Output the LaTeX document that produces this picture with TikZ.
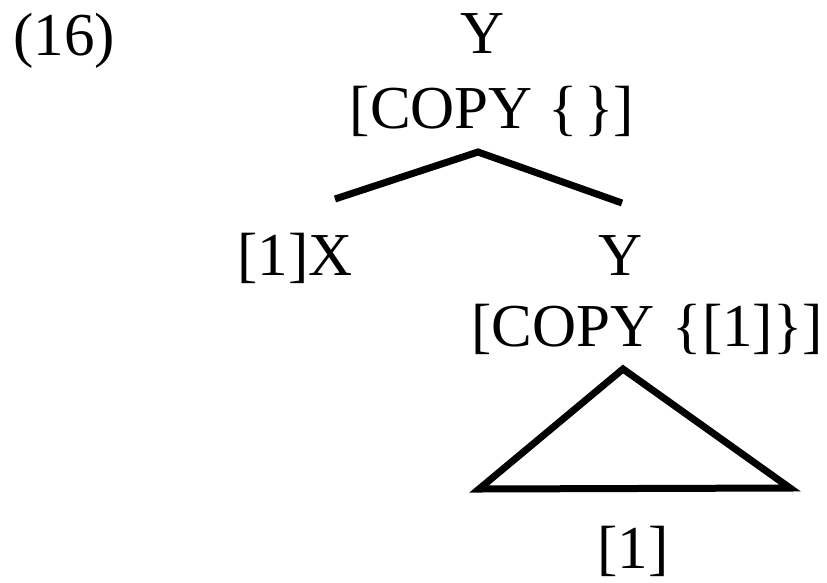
\documentclass[tikz,border=0pt]{standalone}
\usepackage{fontspec}
\setmainfont{Liberation Serif}
\begin{document}
\begin{tikzpicture}[x=1pt,y=-1pt,
  lbl/.style={inner sep=0pt,anchor=base,font=\fontsize{61}{61}\selectfont},
  edge/.style={line width=7pt,line cap=butt,line join=miter}]
\useasboundingbox (0,0) rectangle (827,582);
\node[lbl,anchor=base west] (ex) at (13,55) {(16)};
\node[lbl] (y1) at (483,53) {Y};
\node[lbl] (c1) at (492,128) {[COPY \{\kern0.12em\}]};
\coordinate (top) at (478,152);
\coordinate (l) at (335,199);
\coordinate (r) at (622,203);
\draw[edge] (l) -- (top) -- (r);
\node[lbl,anchor=base west] (x) at (237,275) {[1]X};
\node[lbl] (y2) at (621,275) {Y};
\node[lbl,anchor=base east] (c2) at (823,346) {[COPY\kern0.05em\ \{[1]\}]};
\coordinate (apex) at (623,369);
\coordinate (bl) at (479,489);
\coordinate (br) at (790,488);
\draw[edge] (apex) -- (bl) -- (br) -- cycle;
\node[lbl] (one) at (633,568) {[1]};
\end{tikzpicture}
\end{document}
